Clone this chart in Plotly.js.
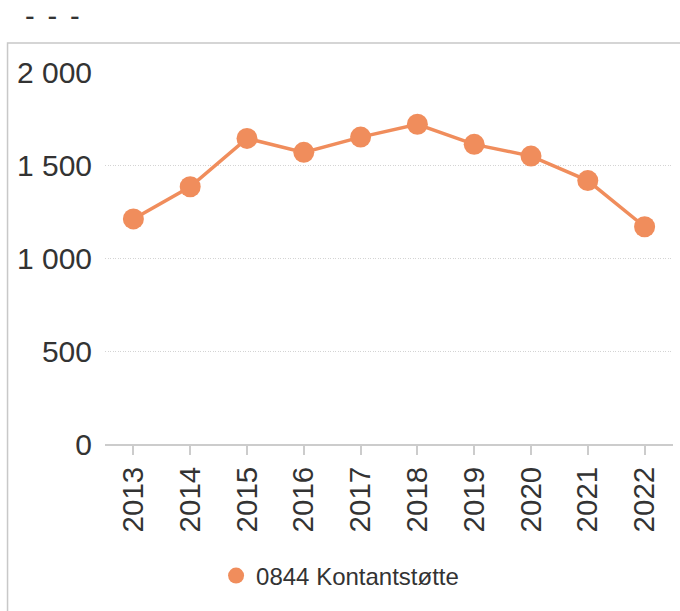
<!DOCTYPE html>
<html>
<head>
<meta charset="utf-8">
<script src="https://cdn.plot.ly/plotly-3.0.1.min.js"></script>
<style>html,body{margin:0;padding:0;background:#fff;}#chart{width:680px;height:611px;}</style>
</head>
<body>
<div id="chart"></div>
<script>
var years = ["2013","2014","2015","2016","2017","2018","2019","2020","2021","2022"];
var values = [1210, 1383, 1643, 1568, 1650, 1719, 1611, 1548, 1416, 1168];
var seriesName = "0844 Kontantstøtte";
var yTickVals = [0, 500, 1000, 1500, 2000];
var yTickText = ["0", "500", "1 000", "1 500", "2 000"];
var titleText = "- \u2006- \u2006-";

var color = "#f08d5c";
var font = "Liberation Sans, Arial, sans-serif";

var trace = {
  x: years, y: values, name: seriesName, type: "scatter", mode: "lines+markers",
  line: {color: color, width: 3.5},
  marker: {color: color, size: 21},
  showlegend: false, hoverinfo: "none"
};
var legendTrace = {
  x: [null], y: [null], name: seriesName, type: "scatter", mode: "markers",
  marker: {color: color, size: 21}, showlegend: true, hoverinfo: "none"
};

var layout = {
  width: 680, height: 611,
  margin: {l: 104.6, r: 6.6, t: 72, b: 167},
  paper_bgcolor: "#fff", plot_bgcolor: "#fff",
  font: {family: font, color: "#333"},
  title: {text: titleText, x: 25/680, xanchor: "left", xref: "container", y: 1 - 15.5/611, yanchor: "middle", yref: "container", font: {size: 29, color: "#333", family: font}},
  xaxis: {
    type: "category", range: [-0.5, 9.5], showgrid: false, zeroline: false,
    showline: true, linecolor: "#cccccc", linewidth: 2,
    ticks: "outside", ticklen: 9, tickcolor: "#cccccc", tickwidth: 2,
    tickangle: -90, tickfont: {size: 29.5, color: "#333"}, fixedrange: true
  },
  yaxis: {
    range: [0, 2000], tickvals: yTickVals, ticktext: yTickText,
    showgrid: true, gridcolor: "#d4d4d4", griddash: "1px,1.5px", gridwidth: 1,
    zeroline: false, showline: false, ticks: "", ticklabelstandoff: 12,
    tickfont: {size: 30, color: "#333"}, fixedrange: true
  },
  legend: {orientation: "h", x: (340-104.6)/568.8, xanchor: "center", y: (444-576)/372, yanchor: "middle", font: {size: 24, color: "#333"}},
  shapes: [{type: "rect", xref: "paper", yref: "paper", layer: "below",
    x0: (7-104.6)/568.8, x1: 1.2, y0: -0.6, y1: (444-43)/372,
    line: {color: "#c8c8c8", width: 1.5}, fillcolor: "rgba(0,0,0,0)"}]
};

Plotly.newPlot("chart", [trace, legendTrace], layout, {displayModeBar: false, staticPlot: true});
</script>
</body>
</html>
